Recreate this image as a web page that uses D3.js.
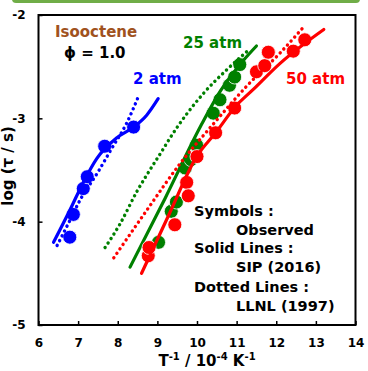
<!DOCTYPE html>
<html><head><meta charset="utf-8">
<script src="https://cdn.jsdelivr.net/npm/d3@7"></script>
<style>
html,body{margin:0;padding:0;background:#fff;}
svg{display:block;}
text{font-family:"DejaVu Sans",Verdana,sans-serif;font-weight:bold;}
</style></head>
<body>
<svg id="chart" width="368" height="371"></svg>
<script>
// ---- data ----
const xTicks = [6,7,8,9,10,11,12,13,14];
const yTicks = [-2,-3,-4,-5];
const seriesNames = ["2 atm","25 atm","50 atm"];
const seriesColors = ["#0000ff","#008000","#ff0000"];

const obs2 = [[6.79,-4.15],[6.88,-3.93],[7.13,-3.68],[7.23,-3.565],[7.67,-3.27],[8.40,-3.085]];
const obs25 = [[9.03,-4.20],[9.35,-3.90],[9.48,-3.81],[9.70,-3.48],[9.85,-3.40],[9.99,-3.26],[10.41,-2.95],[10.58,-2.82],[10.82,-2.68],[10.95,-2.60],[11.08,-2.48]];
const obs50 = [[8.77,-4.33],[8.79,-4.25],[9.44,-4.03],[9.74,-3.62],[9.78,-3.75],[10.0,-3.37],[10.47,-3.14],[10.95,-2.90],[11.5,-2.55],[11.71,-2.49],[11.8,-2.36],[12.43,-2.35],[12.72,-2.24]];

const sip2 = [[6.38,-4.20],[6.79,-3.89],[7.13,-3.62],[7.47,-3.39],[7.97,-3.19],[8.42,-3.08],[8.73,-2.97],[9.02,-2.81]];
const sip25 = [[8.31,-4.44],[9.2,-3.77],[10.1,-3.07],[10.6,-2.73],[11.17,-2.44],[11.5,-2.30]];
const sip50 = [[8.60,-4.50],[9.27,-3.95],[9.99,-3.37],[10.49,-3.13],[10.96,-2.89],[11.42,-2.72],[12.09,-2.47],[13.2,-2.14]];

const llnl2 = [[6.47,-4.23],[6.75,-4.02],[7.05,-3.79],[7.5,-3.52],[7.85,-3.29],[8.22,-3.05],[8.52,-2.79]];
const llnl25 = [[7.68,-4.25],[8.06,-4.02],[8.48,-3.71],[8.81,-3.50],[9.11,-3.32],[9.32,-3.19],[10.16,-2.76],[10.75,-2.53],[11.3,-2.34]];
const llnl50 = [[7.90,-4.35],[8.75,-3.88],[9.55,-3.45],[10.49,-3.02],[11.25,-2.69],[12.09,-2.37],[12.68,-2.12]];

const legendLines = ["Symbols :","Observed","Solid Lines :","SIP (2016)","Dotted Lines :","LLNL (1997)"];

// ---- chart ----
const svg = d3.select("#chart");
const L = 38.5, R = 355.5, T = 15, B = 325;
const x = d3.scaleLinear().domain([6,14]).range([L,R]);
const y = d3.scaleLinear().domain([-5,-2]).range([B,T]);

// top green bar (slide frame)
svg.append("rect").attr("x",12).attr("y",-6).attr("width",348).attr("height",9).attr("rx",4)
  .attr("fill","#70ad47");

const plot = svg.append("g");
const line = d3.line().x(d=>x(d[0])).y(d=>y(d[1])).curve(d3.curveMonotoneX);

const groups = [
  {obs:obs2, sip:sip2, llnl:llnl2},
  {obs:obs25, sip:sip25, llnl:llnl25},
  {obs:obs50, sip:sip50, llnl:llnl50}
];
groups.forEach((g,i)=>{
  const c = seriesColors[i];
  plot.append("g").selectAll("circle").data(g.obs).join("circle")
    .attr("cx",d=>x(d[0])).attr("cy",d=>y(d[1])).attr("r",7)
    .attr("fill",c).attr("stroke","#fff").attr("stroke-width",0.8);
  plot.append("path").datum(g.sip).attr("d",line).attr("fill","none")
    .attr("stroke",c).attr("stroke-width",3.2).attr("stroke-linecap","round");
  plot.append("path").datum(g.llnl).attr("d",line).attr("fill","none")
    .attr("stroke",c).attr("stroke-width",3.4).attr("stroke-linecap","round")
    .attr("stroke-dasharray","0.1,5.3");
});

// axes
const xAxis = d3.axisBottom(x).tickValues(xTicks).tickSizeInner(-4).tickSizeOuter(0).tickPadding(13.5).tickFormat(d=>String(d));
const yAxis = d3.axisLeft(y).tickValues(yTicks).tickSizeInner(-4).tickSizeOuter(0).tickPadding(13).tickFormat(d=>String(d));
const gx = svg.append("g").attr("transform",`translate(0,${B})`).call(xAxis);
const gy = svg.append("g").attr("transform",`translate(${L},0)`).call(yAxis);
[gx,gy].forEach(g=>{
  g.select(".domain").remove();
  g.selectAll(".tick line").attr("stroke","#000").attr("stroke-width",1.5);
  g.selectAll(".tick text").attr("fill","#000").style("font-size","12px").style("font-weight","bold")
    .style("font-family","'DejaVu Sans',Verdana,sans-serif");
});

// frame
svg.append("rect").attr("x",L).attr("y",T).attr("width",R-L).attr("height",B-T)
  .attr("fill","none").attr("stroke","#000").attr("stroke-width",2);

// annotations
svg.append("text").attr("x",55).attr("y",37).attr("fill","#a0521e").style("font-size","15px").text("Isooctene");
svg.append("text").attr("x",64).attr("y",58).attr("fill","#000").style("font-size","15px").text("\u03D5 = 1.0");
const labelPos = [[133,84],[183,48],[286,84]];
seriesNames.forEach((n,i)=>{
  svg.append("text").attr("x",labelPos[i][0]).attr("y",labelPos[i][1]).attr("fill",seriesColors[i])
    .style("font-size","15px").text(n);
});
const legX = [194,236,194,236,194,236];
const legY = [215.7,234.5,253.3,272.3,291.5,311];
legendLines.forEach((t,i)=>{
  svg.append("text").attr("x",legX[i]).attr("y",legY[i]).attr("fill","#000").style("font-size","14.5px").text(t);
});

// axis titles
const xt = svg.append("text").attr("x",207).attr("y",366).attr("text-anchor","middle").attr("fill","#000").style("font-size","15px");
xt.append("tspan").text("T");
xt.append("tspan").attr("dy",-6).style("font-size","10px").text("-1");
xt.append("tspan").attr("dy",6).text(" / 10");
xt.append("tspan").attr("dy",-6).style("font-size","10px").text("-4");
xt.append("tspan").attr("dy",6).text(" K");
xt.append("tspan").attr("dy",-6).style("font-size","10px").text("-1");

svg.append("text").attr("transform","translate(13,166) rotate(-90)").attr("text-anchor","middle")
  .attr("fill","#000").style("font-size","15px").text("log (\u03C4 / s)");
</script>
</body></html>
